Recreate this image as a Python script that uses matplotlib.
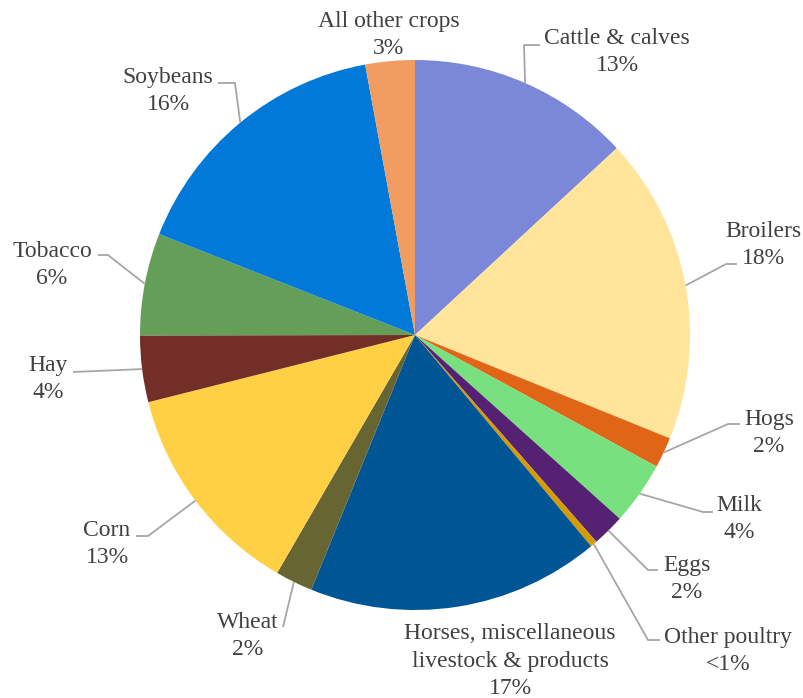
import numpy as np
import matplotlib
matplotlib.use('Agg')
import matplotlib.pyplot as plt

######## Data ##############
categories = ['Cattle & calves', 'Broilers', 'Hogs', 'Milk', 'Eggs', 'Other poultry',
              'Horses, miscellaneous\nlivestock & products', 'Wheat', 'Corn', 'Hay',
              'Tobacco', 'Soybeans', 'All other crops']
shares = [13.1, 18.0, 1.8, 3.7, 1.9, 0.4, 17.2, 2.2, 12.7, 3.9, 6.0, 16.1, 2.9]
pct_labels = ['13%', '18%', '2%', '4%', '2%', '<1%', '17%', '2%', '13%', '4%', '6%', '16%', '3%']
colors = ['#7B87D9', '#FFE499', '#E06517', '#78E07F', '#552273', '#D59B00',
          '#005595', '#676633', '#FFD044', '#722E27', '#649E58', '#0079D8', '#F19C61']

######## Layout (pixel coords, y measured from top) ##############
W, H = 804, 698
cx, cy, R = 415, 335, 275
# text centre, elbow of leader line, end of leader line (None = no leader)
label_layout = [
    ((617, 52), (524, 45), (540, 45)),
    ((763, 245), (726, 264), (737, 264)),
    ((769, 433), (728, 424), (740, 424)),
    ((739, 519), (703, 512), (713, 512)),
    ((687, 579), (648, 570), (658, 570)),
    ((728, 651), (648, 640), (660, 640)),
    ((510, 661), None, None),
    ((248, 636), None, (283, 627)),
    ((107, 544), (148, 536), (136, 536)),
    ((48, 379), None, (73, 372)),
    ((52, 265), (108, 255), (98, 255)),
    ((168, 91), (235, 83), (218, 83)),
    ((389, 35), None, None),
]

plt.rcParams['font.family'] = 'serif'
plt.rcParams['font.serif'] = ['Liberation Serif', 'DejaVu Serif']

def fy(y):
    return H - y

fig = plt.figure(figsize=(W / 100, H / 100), dpi=100)
ax = fig.add_axes([0, 0, 1, 1])
wedges, _ = ax.pie(shares, colors=colors, startangle=90, counterclock=False,
                   center=(cx, fy(cy)), radius=R, frame=True,
                   wedgeprops=dict(linewidth=0))
ax.set_xlim(0, W)
ax.set_ylim(0, H)
ax.axis('off')

line_col = '#A6A6A6'
text_col = '#404040'
for w, name, pct, (tpos, elbow, end) in zip(wedges, categories, pct_labels, label_layout):
    mid = np.deg2rad((w.theta1 + w.theta2) / 2)
    start = (cx + R * np.cos(mid), fy(cy) + R * np.sin(mid))
    if end is not None:
        pts = [start]
        if elbow is not None:
            pts.append((elbow[0], fy(elbow[1])))
        pts.append((end[0], fy(end[1])))
        xs, ys = zip(*pts)
        ax.plot(xs, ys, color=line_col, lw=1.3, solid_capstyle='butt')
    ax.text(tpos[0], fy(tpos[1]), f'{name}\n{pct}', ha='center', va='center',
            multialignment='center', fontsize=17, color=text_col, linespacing=1.4)

fig.savefig('out.png', dpi=100)
